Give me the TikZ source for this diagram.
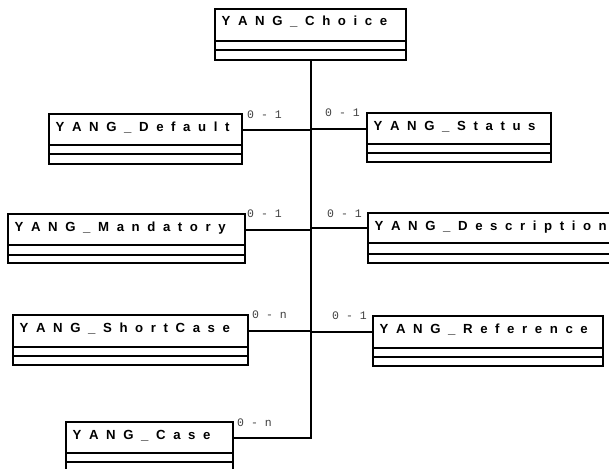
\documentclass[tikz,border=0pt]{standalone}
\usepackage{fontspec}
\usetikzlibrary{fit}
\newfontfamily\titlefont{Liberation Sans}
\newfontfamily\multfont{Liberation Mono}
\tikzset{
  boxline/.style={draw=black, line width=1.8pt},
  conn/.style={draw=black, line width=2pt},
  classtitle/.style={anchor=base west, inner sep=0pt, font=\titlefont\bfseries\fontsize{13.2}{13.2}\selectfont},
  mult/.style={anchor=base west, inner sep=0pt, text=black!75, font=\multfont\fontsize{11.5}{11.5}\selectfont},
  region/.style={inner sep=0pt, draw=none}
}
% name, x1, y1 (top), x2, y sep1, y sep2, y bottom, text
\newcommand\classbox[8]{%
  \draw[boxline] (#2,#3) rectangle (#4,#7);
  \draw[boxline] (#2,#5) -- (#4,#5);
  \draw[boxline] (#2,#6) -- (#4,#6);
  \node[region, fit={(#2,#3) (#4,#5)}] (#1) {};
  \node[region, fit={(#2,#3) (#4,#7)}] (#1-box) {};
  \node[classtitle] (#1-text) at (#2+6.5,#3+17) {\spaceskip=7.6pt\relax #8};
}
\begin{document}
\begin{tikzpicture}[x=1pt,y=-1pt]
\useasboundingbox (0,0) rectangle (609,468);
\clip (0,0) rectangle (609,468);
\fill[white] (0,0) rectangle (609,468);

\classbox{choice}{215}{9}{406}{41}{50}{60}{Y A N G \_ C h o i c e}
\classbox{default}{49}{114}{242}{145}{154}{164}{Y A N G \_ D e f a u l t}
\classbox{status}{367}{113}{551}{144}{153}{162}{Y A N G \_ S t a t u s}
\classbox{mandatory}{8}{214}{245}{245}{255}{263}{Y A N G \_ M a n d a t o r y}
\classbox{description}{368}{213}{614}{243}{254}{263}{Y A N G \_ D e s c r i p t i o n}
\classbox{shortcase}{13}{315}{248}{347}{356}{365}{Y A N G \_ S h o r t C a s e}
\classbox{reference}{373}{316}{603}{348}{357}{366}{Y A N G \_ R e f e r e n c e}
\classbox{case}{66}{422}{233}{453}{462}{474}{Y A N G \_ C a s e}

% spine
\draw[conn] (choice-box.south) -- (choice-box.south |- case.east) -- (case.east);
% branches
\draw[conn] (default.east) -- (default.east -| choice-box.south);
\draw[conn] (status.west) -- (status.west -| choice-box.south);
\draw[conn] (mandatory.east) -- (mandatory.east -| choice-box.south);
\draw[conn] (description.west) -- (description.west -| choice-box.south);
\draw[conn] (shortcase.east) -- (shortcase.east -| choice-box.south);
\draw[conn] (reference.west) -- (reference.west -| choice-box.south);

% multiplicities
\node[mult] (m-default) at (247,118) {0 - 1};
\node[mult] (m-status) at (325,116) {0 - 1};
\node[mult] (m-mandatory) at (247,217) {0 - 1};
\node[mult] (m-description) at (327,217) {0 - 1};
\node[mult] (m-shortcase) at (252,318) {0 - n};
\node[mult] (m-reference) at (332,319) {0 - 1};
\node[mult] (m-case) at (237,426) {0 - n};
\end{tikzpicture}
\end{document}
